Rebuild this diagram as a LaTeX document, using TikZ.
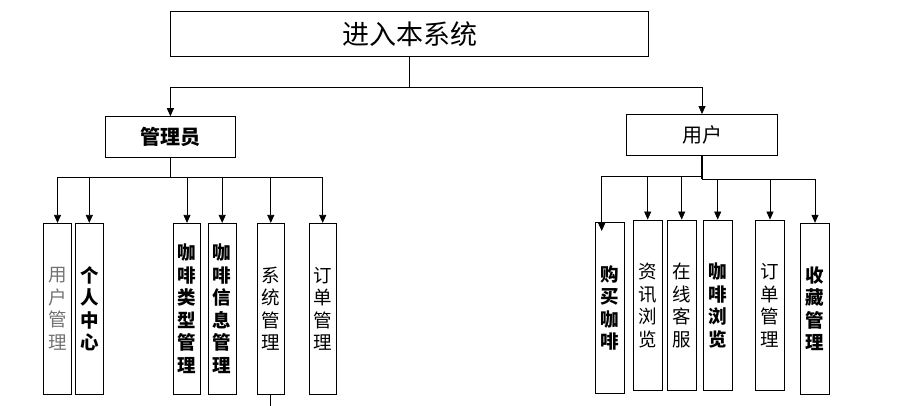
\documentclass[tikz,border=0pt]{standalone}
\usepackage{fontspec}
\newfontfamily\cjk{Noto Sans CJK SC}
\usetikzlibrary{arrows.meta,positioning}
\tikzset{%
	sysbox/.style   = {draw, rectangle, minimum width=477.6pt, minimum height=44.3pt, font=\cjk\fontsize{27}{30}\selectfont}, % Entry
	role/.style     = {draw, rectangle, minimum height=41.2pt, font=\cjk\fontsize{20}{24}\selectfont}, % Role
	func/.style     = {draw, rectangle, minimum width=27.5pt, minimum height=171pt, inner sep=0pt, align=center, font=\cjk\fontsize{18.5}{22.5}\selectfont}, % Function
	strong/.style   = {font=\cjk\bfseries\fontsize{18.5}{22.5}\selectfont},
	arrow/.style    = {-{Triangle[width=7pt,length=8pt]}},
	waypoint/.style = {coordinate},
}
\begin{document}
\begin{tikzpicture}[x=1pt, y=-1pt, line width=0.75pt]
	\useasboundingbox (0,0) rectangle (907,406);
	\node[sysbox] (sys) at (409.5,33.9) {进入本系统};
	\node[role, minimum width=130.7pt, font=\cjk\bfseries\fontsize{20}{24}\selectfont] (admin) at (170.4,137.2) {管理员};
	\node[role, minimum width=150.6pt] (user) at (702,135) {用户};
	% admin functions
	\node[func, text=black!55] (a1) at (57.5,308.8) {用\\户\\管\\理};
	\node[func, strong] (a2) at (89.3,308.8) {个\\人\\中\\心};
	\node[func, strong] (a3) at (187,308.8) {咖\\啡\\类\\型\\管\\理};
	\node[func, strong] (a4) at (222.2,308.8) {咖\\啡\\信\\息\\管\\理};
	\node[func] (a5) at (270.8,308.8) {系\\统\\管\\理};
	\node[func] (a6) at (322.7,308.8) {订\\单\\管\\理};
	% user functions
	\node[func, strong, minimum width=28.5pt] (u1) at (609.8,307.8) {购\\买\\咖\\啡};
	\node[func, minimum width=28.5pt, minimum height=170.7pt] (u2) at (647.7,305.3) {资\\讯\\浏\\览};
	\node[func, minimum width=28.5pt, minimum height=170.7pt] (u3) at (681.7,305.3) {在\\线\\客\\服};
	\node[func, strong, minimum width=28.5pt, minimum height=170.7pt] (u4) at (717.7,305.3) {咖\\啡\\浏\\览};
	\node[func, minimum width=28.5pt, minimum height=170.7pt] (u5) at (770,305.3) {订\\单\\管\\理};
	\node[func, strong, minimum width=28.5pt] (u6) at (815,308.7) {收\\藏\\管\\理};
	% connectors
	\draw (sys.south) -- ++(0,30.7) coordinate (s0);
	\draw[arrow] (s0) -| (admin.north);
	\draw[arrow] (s0) -| (user.north);
	\draw (admin.south) -- ++(0,19.6) coordinate (a0);
	\foreach \n in {a1,a2,a3,a4,a5,a6}
		\draw[arrow] (a0) -| (\n.north);
	\draw[line width=1.3pt] (user.south) -- ++(0,23.3) coordinate (u0);
	\coordinate (uleft) at (user.south |- 0,176);
	\coordinate (buytip) at (601.7,231);
	\draw[arrow] (uleft) -| (buytip);
	\foreach \n in {u2,u3}
		\draw[arrow] (uleft) -| (\n.north);
	\foreach \n in {u4,u5,u6}
		\draw[arrow] (u0) -| (\n.north);
	\draw (a5.south) -- ++(0,13);
\end{tikzpicture}
\end{document}
